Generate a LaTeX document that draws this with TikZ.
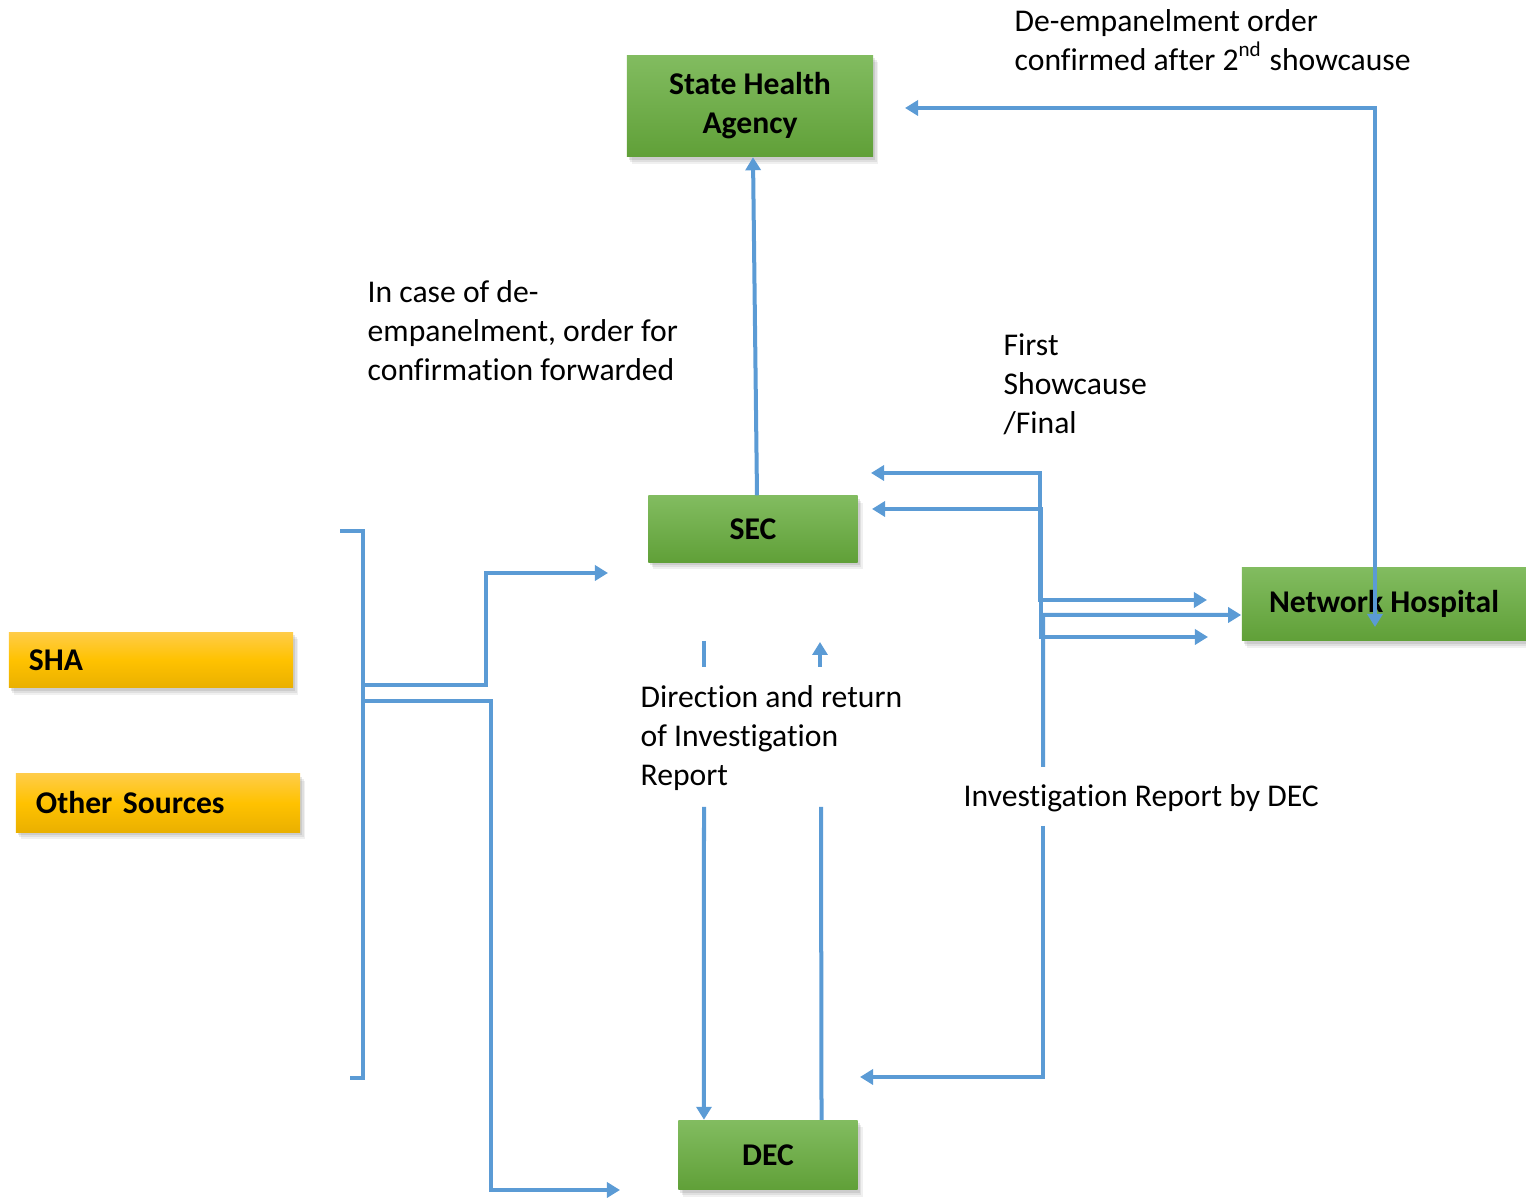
\documentclass[tikz,border=0pt]{standalone}
\usepackage{fontspec}
\setmainfont{Carlito}[Ligatures=NoCommon,RawFeature=-calt]
\usetikzlibrary{arrows.meta,shadows}
\definecolor{linkblue}{RGB}{91,155,213}
\definecolor{greentop}{RGB}{130,188,96}
\definecolor{greenbot}{RGB}{96,160,56}
\definecolor{yellowtop}{RGB}{255,204,72}
\definecolor{yellowmid}{RGB}{255,194,0}
\definecolor{yellowbot}{RGB}{234,176,0}

\begin{document}
\begin{tikzpicture}
  [x=.01cm,y=-.01cm,>={Triangle[length=.13cm,width=.15cm]},
   every node/.style={font=\fontsize{9}{11.1}\selectfont,inner sep=0pt},
   softshadow/.style={
     drop shadow={shadow xshift=.05cm,shadow yshift=-.07cm,opacity=.12},
     drop shadow={shadow xshift=.035cm,shadow yshift=-.05cm,opacity=.15},
     drop shadow={shadow xshift=.02cm,shadow yshift=-.03cm,opacity=.2}},
   greenbox/.style={rectangle,top color=greentop,bottom color=greenbot,softshadow,
     font=\fontsize{9}{11.1}\selectfont\bfseries,align=center},
   yellowbox/.style={rectangle,top color=yellowtop,bottom color=yellowbot,
     middle color=yellowmid,softshadow,
     font=\fontsize{9}{11.1}\selectfont\bfseries,align=left,
     text width=2.44cm,inner xsep=.2cm,minimum height=.55cm},
   note/.style={anchor=west,align=left},
   link/.style={draw=linkblue,line width=.04cm},
   bar/.style={draw=linkblue,line width=.04cm}]
  \useasboundingbox (0,0) rectangle (1526,1201);

  \node[greenbox,minimum width=2.46cm,minimum height=1.01cm] (sha) at (750,106) {State Health\\Agency};
  \node[greenbox,minimum width=2.09cm,minimum height=.66cm] (sec) at (753,529) {SEC};
  \node[greenbox,minimum width=2.84cm,minimum height=.73cm] (hosp) at (1384,604) {Network Hospital};
  \node[greenbox,minimum width=1.79cm,minimum height=.69cm] (dec) at (768,1155) {DEC};
  \node[yellowbox] (shasrc) at (151,660) {SHA};
  \node[yellowbox,minimum height=.58cm] (other) at (158,803) {Other Sources};

  \node[note] (deorder) at (1014,40) {De-empanelment order\\confirmed after 2\textsuperscript{nd} showcause};
  \node[note] (fwdnote) at (367,331) {In case of de-\\empanelment, order for\\confirmation forwarded};
  \node[note] (shownote) at (1003,384) {First\\Showcause\\/Final};
  \node[note] (dirnote) at (640,738) {Direction and return\\of Investigation\\Report};
  \node[note] (ivnote) at (963,798) {Investigation Report by DEC};

  \coordinate (shaIn) at (905,108);
  \coordinate (hospIn) at (1375,627);

  % SEC -> SHA, hospital <-> SHA
  \draw[link,->] ([xshift=.04cm]sec.north) -- ([xshift=.03cm]sha.south);
  \draw[link,<->] (shaIn) -| (hospIn);

  % sources
  \draw[bar] (340,531) -- (363,531) -- (363,1078) -- (350,1078);
  \draw[link,->] (363,685) -- (486,685) -- (486,573) -- (608,573);
  \draw[link,->] (363,701) -| (491,1190) -- (620,1190);

  % SEC <-> DEC
  \draw[bar] (704,641) -- (704,667);
  \draw[link,->] (820,667) -- (820,642);
  \draw[link,->] (704,807) -- ([xshift=-.64cm]dec.north);
  \draw[bar] ([xshift=.535cm]dec.north) -- (821,807);

  % SEC <-> hospital, DEC report
  \draw[link,<->] (1207,600) -- (1040,600) -- (1040,473) -- (871,473);
  \draw[link,<->] (1208,637) -- (1041,637) -- (1041,509) -- (872,509);
  \draw[link,->] (1043,767) -- (1043,615) -- ([yshift=-.11cm]hosp.west);
  \draw[link,->] (1043,826) -- (1043,1077) -- (860,1077);
\end{tikzpicture}
\end{document}
